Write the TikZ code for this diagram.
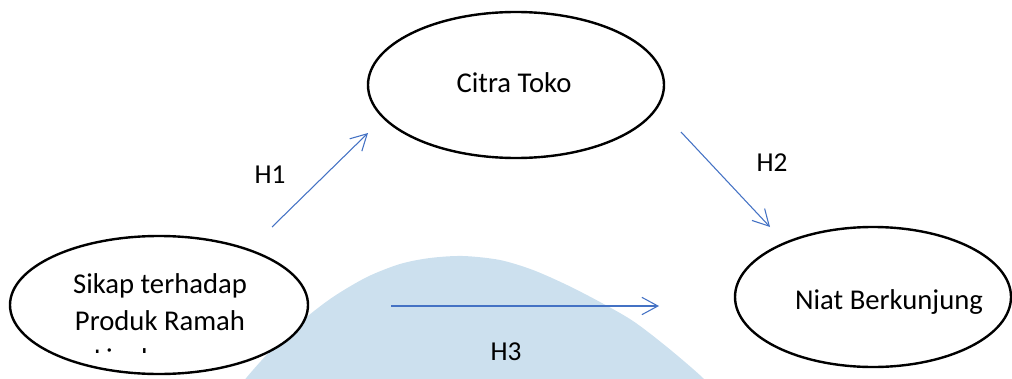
\documentclass[tikz,border=0pt]{standalone}
\usepackage{fontspec}
\setmainfont{Carlito}
\usetikzlibrary{shapes.geometric,arrows.meta}
\definecolor{hillblue}{RGB}{204,224,238}
\definecolor{pathblue}{RGB}{68,114,196}
\begin{document}
\begin{tikzpicture}[x=0.75pt,y=-0.75pt,
  construct/.style={ellipse,draw=black,line width=1.8pt,fill=white,inner sep=0pt},
  caption/.style={font=\fontsize{21.5}{27.75}\selectfont,inner sep=0pt,anchor=base},
  hyptext/.style={font=\fontsize{20.5}{24}\selectfont,inner sep=0pt,anchor=base},
  hyp/.style={draw=pathblue,line width=0.8pt,
    -{Straight Barb[length=12pt,width=13pt,line width=0.8pt]}}]
\useasboundingbox (0,0) rectangle (1012,378);
\clip (0,0) rectangle (1012,378);

% pale hill in the background
\fill[hillblue] plot[smooth,tension=0.5] coordinates {
  (222,410) (247,377) (275,346) (303,320) (333,297) (367,277) (400,264)
  (430,258) (463,256) (500,260) (533,270) (567,285) (600,302) (633,321)
  (667,347) (703,378) (722,400)};

% constructs
\node[construct,minimum width=222pt,minimum height=109.5pt] (citra) at (516,85) {};
\node[construct,minimum width=223.5pt,minimum height=103.5pt] (sikap) at (159,305) {};
\node[construct,minimum width=207pt,minimum height=105pt] (niat) at (873,297) {};

\node[caption] (citraText) at (514,92) {Citra Toko};
\node[caption] (niatText) at (889,309) {Niat Berkunjung};
\begin{scope}
  \clip (0,0) rectangle (320,352);
  \node[caption] (sikapA) at (160,293) {Sikap terhadap};
  \node[caption] (sikapB) at (160,330) {Produk Ramah};
  \node[caption] (sikapC) at (160,368) {Lingkungan};
\end{scope}

% hypothesised paths
\coordinate (h1s) at (272,227);
\coordinate (h1e) at (368,133);
\coordinate (h2s) at (681,132);
\coordinate (h2e) at (770,227);
\coordinate (h3s) at (391,306);
\coordinate (h3e) at (659,306);
\draw[hyp] (h1s) -- (h1e);
\draw[hyp] (h2s) -- (h2e);
\draw[hyp] (h3s) -- (h3e);

\node[hyptext] (H1) at (270,183) {H1};
\node[hyptext] (H2) at (772,171) {H2};
\node[hyptext] (H3) at (506,360) {H3};
\end{tikzpicture}
\end{document}
